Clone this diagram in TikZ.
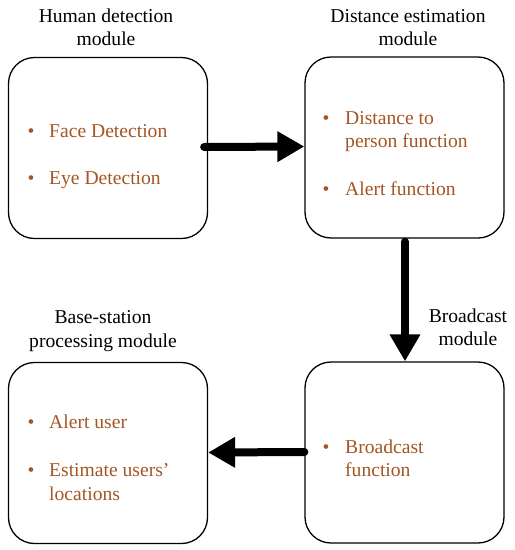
\documentclass[tikz,border=0pt]{standalone}
\usepackage{fontspec}
\setmainfont{Liberation Serif}
\newfontfamily\tnr{Liberation Serif}
\usetikzlibrary{arrows.meta}
\definecolor{itemcol}{RGB}{165,85,35}
\begin{document}
\begin{tikzpicture}[x=1pt,y=-1pt,
  modbox/.style={draw,line width=1.3pt,rounded corners=26pt,minimum width=199pt,minimum height=181pt,inner sep=0pt},
  lbl/.style={anchor=base,inner sep=0pt,font=\tnr\fontsize{19.6}{23.5}\selectfont},
  itm/.style={anchor=base west,inner sep=0pt,text=itemcol,font=\tnr\fontsize{19.6}{23.5}\selectfont},
  bul/.style={anchor=base,inner sep=0pt,text=itemcol,font=\tnr\fontsize{19.6}{23.5}\selectfont},
  flow/.style={line width=8pt,line cap=round,-{Triangle[length=27pt,width=29pt]}}]
\useasboundingbox (0,0) rectangle (515,550);
% boxes
\node[modbox] (b1) at (108,148) {};
\node[modbox] (b2) at (404.5,147.5) {};
\node[modbox] (b3) at (108,453) {};
\node[modbox] (b4) at (404.5,452.5) {};
% module labels
\node[lbl] (l1a) at (106,22) {Human detection};
\node[lbl] (l1b) at (106,45) {module};
\node[lbl] (l2a) at (408,22) {Distance estimation};
\node[lbl] (l2b) at (408,45) {module};
\node[lbl] (l3a) at (103,323) {Base-station};
\node[lbl] (l3b) at (103,347) {processing module};
\node[lbl] (l4a) at (468,322) {Broadcast};
\node[lbl] (l4b) at (468,345) {module};
% box 1 items
\node[bul] (d11) at (31,137) {•};
\node[itm] (t11) at (49,137) {Face Detection};
\node[bul] (d12) at (31,184) {•};
\node[itm] (t12) at (49,184) {Eye Detection};
% box 2 items
\node[bul] (d21) at (326,124) {•};
\node[itm] (t21a) at (345,124) {Distance to};
\node[itm] (t21b) at (345,147.5) {person function};
\node[bul] (d22) at (326,195) {•};
\node[itm] (t22) at (345,195) {Alert function};
% box 3 items
\node[bul] (d31) at (31,428) {•};
\node[itm] (t31) at (49,428) {Alert user};
\node[bul] (d32) at (31,476) {•};
\node[itm] (t32a) at (49,476) {Estimate users’};
\node[itm] (t32b) at (49,500) {locations};
% box 4 items
\node[bul] (d41) at (326,453) {•};
\node[itm] (t41a) at (345,453) {Broadcast};
\node[itm] (t41b) at (345,476) {function};
% connectors
\draw[flow] ([xshift=-4pt,yshift=1pt]b1.east) -- ([yshift=1pt]b2.west);
\draw[flow] ([xshift=0.5pt,yshift=-3pt]b2.south) -- ([xshift=0.5pt]b4.north);
\draw[flow] ([yshift=0.5pt]b4.west) -- ([yshift=0.5pt]b3.east);
\end{tikzpicture}
\end{document}
